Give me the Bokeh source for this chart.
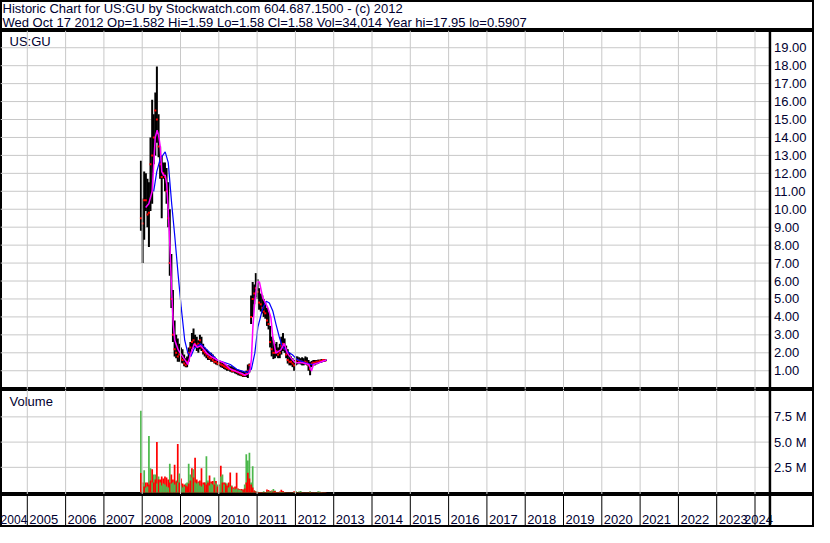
import numpy as np
import pandas as pd
from bokeh.plotting import figure
from bokeh.layouts import column
from bokeh.models import ColumnDataSource, Span
from bokeh.core.properties import value
from bokeh.embed import file_html
from bokeh.resources import INLINE

# ---------------- data ----------------
title_line1 = "Historic Chart for US:GU by Stockwatch.com 604.687.1500 - (c) 2012"
title_line2 = "Wed Oct 17 2012  Op=1.582  Hi=1.59  Lo=1.58  Cl=1.58  Vol=34,014  Year hi=17.95  lo=0.5907"
symbol_label = "US:GU"
volume_label = "Volume"

bar_dates = [
    "2007-12-20",
    "2008-01-05", "2008-01-20", "2008-02-05", "2008-02-20", "2008-03-05", "2008-03-20",
    "2008-04-05", "2008-04-20", "2008-05-05", "2008-05-20", "2008-06-05", "2008-06-20",
    "2008-07-05", "2008-07-20", "2008-08-05", "2008-08-20", "2008-09-05", "2008-09-20",
    "2008-10-05", "2008-10-20", "2008-11-05", "2008-11-20", "2008-12-05", "2008-12-20",
    "2009-01-05", "2009-01-20", "2009-02-05", "2009-02-20", "2009-03-05", "2009-03-20",
    "2009-04-05", "2009-04-20", "2009-05-05", "2009-05-20", "2009-06-05", "2009-06-20",
    "2009-07-05", "2009-07-20", "2009-08-05", "2009-08-20", "2009-09-05", "2009-09-20",
    "2009-10-05", "2009-10-20", "2009-11-05", "2009-11-20", "2009-12-05", "2009-12-20",
    "2010-01-05", "2010-01-20", "2010-02-05", "2010-02-20", "2010-03-05", "2010-03-20",
    "2010-04-05", "2010-04-20", "2010-05-05", "2010-05-20", "2010-06-05", "2010-06-20",
    "2010-07-05", "2010-07-20", "2010-08-05", "2010-08-20", "2010-09-05", "2010-09-20",
    "2010-10-05", "2010-10-20", "2010-11-05", "2010-11-20", "2010-12-05", "2010-12-20",
    "2011-01-05", "2011-01-20", "2011-02-05", "2011-02-20", "2011-03-05", "2011-03-20",
    "2011-04-05", "2011-04-20", "2011-05-05", "2011-05-20", "2011-06-05", "2011-06-20",
    "2011-07-05", "2011-07-20", "2011-08-05", "2011-08-20", "2011-09-05", "2011-09-20",
    "2011-10-05", "2011-10-20", "2011-11-05", "2011-11-20", "2011-12-05", "2011-12-20",
    "2012-01-05", "2012-01-20", "2012-02-05", "2012-02-20", "2012-03-05", "2012-03-20",
    "2012-04-05", "2012-04-20", "2012-05-05", "2012-05-20", "2012-06-05", "2012-06-20",
    "2012-07-05", "2012-07-20", "2012-08-05", "2012-08-20", "2012-09-05", "2012-09-20",
    "2012-10-05", "2012-10-17",
]

bar_hi = [
    12.7, 10.6, 12.1, 12.0, 11.7, 11.5, 14.0, 16.1, 15.3, 16.5, 17.95, 15.3, 13.5,
    13.0, 12.6, 12.6, 12.3, 11.5, 10.0, 7.5, 5.5, 3.8, 3.0, 2.8, 2.5,
    2.3, 2.2, 1.9, 1.7, 1.8, 2.3, 2.6, 3.1, 3.35, 3.0, 2.9, 2.7,
    3.0, 2.9, 2.5, 2.3, 2.2, 2.1, 2.0, 2.0, 1.9, 1.8, 1.7, 1.6,
    1.55, 1.5, 1.45, 1.4, 1.35, 1.3, 1.3, 1.25, 1.25, 1.2, 1.15, 1.1,
    1.05, 1.0, 1.0, 0.95, 0.95, 1.0, 1.35, 1.4, 5.2, 5.95, 5.8, 6.44,
    6.1, 5.6, 5.3, 5.2, 5.0, 4.8, 4.5, 4.3, 3.5, 2.9, 2.7, 2.5,
    2.6, 2.3, 2.5, 2.9, 3.1, 2.8, 2.4, 2.2, 2.0, 1.8, 1.7, 1.6,
    1.8, 1.8, 1.75, 1.7, 1.75, 1.7, 1.8, 1.75, 1.6, 1.5, 1.55, 1.6,
    1.6, 1.6, 1.62, 1.62, 1.65, 1.65, 1.65, 1.59,
]
bar_lo = [
    8.8, 7.0, 8.3, 9.9, 9.0, 7.9, 9.9, 10.3, 12.5, 13.0, 13.7, 12.9, 11.7,
    9.5, 11.7, 11.0, 10.3, 9.0, 6.3, 4.5, 2.6, 1.8, 1.7, 1.5, 1.5,
    1.45, 1.4, 1.25, 1.2, 1.2, 1.5, 1.9, 2.2, 2.3, 2.3, 2.1, 2.0,
    2.2, 2.1, 1.9, 1.8, 1.7, 1.6, 1.6, 1.5, 1.5, 1.4, 1.35, 1.3,
    1.25, 1.2, 1.15, 1.1, 1.05, 1.0, 1.0, 0.95, 0.9, 0.9, 0.85, 0.8,
    0.75, 0.72, 0.7, 0.65, 0.65, 0.65, 0.59, 0.9, 3.6, 4.0, 4.7, 5.1,
    5.0, 4.4, 4.3, 4.2, 4.0, 3.9, 3.5, 3.3, 2.3, 1.8, 1.65, 1.7,
    1.8, 1.7, 1.7, 1.9, 2.1, 2.0, 1.7, 1.4, 1.3, 1.3, 1.2, 1.0,
    1.3, 1.35, 1.4, 1.35, 1.3, 1.3, 1.35, 1.3, 1.0, 0.75, 1.2, 1.3,
    1.3, 1.35, 1.4, 1.45, 1.45, 1.5, 1.5, 1.58,
]
bar_close = [
    9.5, 9.2, 10.5, 10.5, 9.7, 9.8, 12.5, 13.0, 14.0, 15.5, 15.0, 13.5, 12.5,
    11.8, 12.0, 11.8, 11.0, 9.5, 7.0, 5.0, 3.0, 2.2, 2.0, 1.8, 1.9,
    1.7, 1.6, 1.4, 1.3, 1.5, 2.0, 2.3, 2.6, 2.7, 2.5, 2.4, 2.5,
    2.7, 2.3, 2.1, 2.0, 1.9, 1.8, 1.7, 1.7, 1.6, 1.5, 1.5, 1.4,
    1.4, 1.35, 1.3, 1.25, 1.2, 1.15, 1.1, 1.1, 1.0, 1.0, 1.0, 0.95,
    0.9, 0.85, 0.8, 0.75, 0.75, 0.85, 1.0, 1.3, 4.0, 5.0, 5.3, 5.6,
    5.4, 4.8, 4.7, 4.5, 4.3, 4.2, 3.8, 3.6, 2.6, 2.2, 2.0, 2.0,
    2.1, 1.9, 2.0, 2.4, 2.5, 2.2, 1.9, 1.6, 1.5, 1.5, 1.4, 1.3,
    1.5, 1.6, 1.55, 1.5, 1.5, 1.45, 1.5, 1.45, 1.3, 1.1, 1.4, 1.45,
    1.45, 1.5, 1.5, 1.55, 1.55, 1.6, 1.58, 1.58,
]

vol_up = [  # millions, up-day volume
    8.1, 0.9, 2.2, 0.5, 0.6, 5.6, 2.4, 1.0, 1.8, 1.8, 0.9, 1.6, 1.0,
    0.7, 0.9, 0.8, 0.6, 0.5, 2.85, 0.9, 1.0, 0.8, 1.2, 1.0, 1.9,
    0.7, 0.5, 0.6, 0.9, 1.0, 2.85, 1.8, 1.5, 2.3, 1.0, 0.9, 1.0,
    0.7, 0.6, 0.8, 1.0, 3.6, 1.2, 0.7, 0.9, 0.8, 1.5, 0.9, 0.8,
    0.7, 1.6, 1.8, 0.8, 1.0, 0.9, 0.5, 0.6, 0.7, 0.4, 0.3, 0.4,
    0.3, 0.3, 0.2, 0.3, 0.8, 3.8, 3.17, 3.94, 1.0, 2.6, 0.2, 0.15,
    0.1, 0.05, 0.05, 0.05, 0.12, 0.05, 0.08, 0.1, 0.1, 0.15, 0.35, 0.2,
    0.05, 0.05, 0.05, 0.05, 0.05, 0.03, 0.03, 0.03, 0.03, 0.03, 0.03, 0.05,
    0.15, 0.03, 0.1, 0.15, 0.03, 0.03, 0.03, 0.03, 0.03, 0.12, 0.03, 0.03,
    0.03, 0.03, 0.12, 0.1, 0.03, 0.03, 0.03, 0.02,
]
vol_down = [  # millions, down-day volume
    1.95, 1.0, 0.6, 1.0, 1.0, 0.8, 1.2, 2.3, 1.0, 1.3, 5.0, 1.3, 1.3,
    1.6, 1.4, 1.6, 1.5, 1.3, 1.0, 1.8, 1.3, 2.75, 1.1, 4.8, 1.0,
    1.4, 0.9, 0.8, 0.7, 0.6, 0.9, 1.2, 2.4, 1.5, 3.45, 1.3, 1.1,
    1.2, 2.4, 1.0, 1.0, 0.8, 1.0, 1.7, 1.1, 1.15, 0.8, 1.15, 0.6,
    0.8, 2.65, 1.0, 1.0, 0.9, 0.7, 1.0, 2.0, 0.6, 0.5, 0.6, 1.96,
    0.4, 0.35, 0.35, 0.3, 0.4, 1.0, 1.96, 1.4, 0.8, 0.5, 0.2, 0.1,
    0.05, 0.05, 0.05, 0.03, 0.03, 0.05, 0.3, 0.25, 0.15, 0.2, 0.1, 0.15,
    0.05, 0.05, 0.1, 0.28, 0.15, 0.05, 0.03, 0.03, 0.03, 0.03, 0.03, 0.12,
    0.05, 0.03, 0.03, 0.03, 0.03, 0.03, 0.03, 0.03, 0.03, 0.05, 0.03, 0.03,
    0.03, 0.03, 0.03, 0.03, 0.05, 0.03, 0.03, 0.034,
]

# short moving average (magenta), time in decimal years
ma_short_t = [
    2008.09, 2008.17, 2008.26, 2008.30, 2008.34, 2008.39, 2008.43, 2008.47, 2008.51,
    2008.56, 2008.60, 2008.64, 2008.68, 2008.72, 2008.77, 2008.81, 2008.85, 2008.94,
    2009.02, 2009.11, 2009.19, 2009.27, 2009.36, 2009.44, 2009.53, 2009.62, 2009.70,
    2009.79, 2009.96, 2010.13, 2010.30, 2010.47, 2010.60, 2010.68, 2010.78, 2010.81,
    2010.85, 2010.89, 2010.94, 2011.00, 2011.06, 2011.15, 2011.28, 2011.36, 2011.41,
    2011.49, 2011.62, 2011.71, 2011.79, 2011.92, 2012.00, 2012.18, 2012.35, 2012.42,
    2012.47, 2012.60, 2012.80,
]
ma_short_v = [
    10.1, 10.3, 11.0, 12.5, 14.0, 14.4, 14.1, 13.5, 12.1,
    11.9, 11.9, 11.4, 9.9, 8.1, 5.4, 3.6, 2.7, 2.16,
    1.9, 1.62, 1.35, 1.98, 2.5, 2.3, 2.4, 2.16, 1.95,
    1.8, 1.6, 1.44, 1.1, 0.95, 0.85, 0.75, 0.85, 0.99,
    1.62, 3.43, 4.87, 5.95, 5.95, 5.05, 4.51, 3.97, 2.88,
    1.98, 2.16, 2.52, 1.98, 1.62, 1.44, 1.44, 1.35, 0.99,
    1.35, 1.44, 1.6,
]
# long moving average (blue)
ma_long_t = [
    2008.30, 2008.38, 2008.47, 2008.60, 2008.68, 2008.77, 2008.85, 2008.94, 2009.02,
    2009.11, 2009.19, 2009.27, 2009.36, 2009.53, 2009.70, 2009.96, 2010.30, 2010.47,
    2010.72, 2010.85, 2010.94, 2011.02, 2011.15, 2011.24, 2011.32, 2011.41, 2011.49,
    2011.58, 2011.66, 2011.79, 2011.92, 2012.05, 2012.26, 2012.43, 2012.60, 2012.82,
]
ma_long_v = [
    11.0, 12.1, 12.8, 13.2, 12.6, 10.3, 8.5, 6.3, 4.5,
    2.7, 2.0, 1.8, 2.25, 2.5, 2.15, 1.6, 1.35, 1.08,
    0.9, 1.08, 1.98, 3.43, 4.51, 4.87, 4.78, 4.33, 3.61,
    2.88, 2.34, 2.07, 1.89, 1.62, 1.44, 1.35, 1.44, 1.6,
]

price_ticks = [1, 2, 3, 4, 5, 6, 7, 8, 9, 10, 11, 12, 13, 14, 15, 16, 17, 18, 19]
vol_ticks = [2.5, 5.0, 7.5]
vol_tick_labels = ["2.5 M", "5.0 M", "7.5 M"]
years = [2004, 2005, 2006, 2007, 2008, 2009, 2010, 2011, 2012, 2013, 2014,
         2015, 2016, 2017, 2018, 2019, 2020, 2021, 2022, 2023, 2024]

# ---------------- layout / style ----------------
W = 814
H_HEAD, H_PRICE, H_VOL, H_STRIP = 30, 359, 105, 33
X0 = 2004.30
PX_PER_YEAR = 38.3
X1 = X0 + W / PX_PER_YEAR
AXIS_X = 2024.39
P_RANGE = (-0.045, 19.96)
V_RANGE = (-0.19, 10.21)

FONT = "Liberation Sans"
FS = "13px"
TXT = "#000030"
GRID = "#C8C8C8"
UP = "#4CB84C"
DOWN = "#FF0000"


def to_year(dates):
    d = pd.to_datetime(pd.Series(dates))
    return (d.dt.year + (d.dt.dayofyear - 1) / 365.25).to_numpy()


def make_fig(h, yr):
    p = figure(width=W, height=h, x_range=(X0, X1), y_range=yr,
               output_backend="svg", toolbar_location=None, min_border=0,
               x_axis_type=None, y_axis_type=None)
    p.outline_line_color = "black"
    p.outline_line_width = 3
    p.background_fill_color = "white"
    p.border_fill_color = "white"
    return p


def text_kw(**kw):
    base = dict(text_font=value(FONT), text_font_size=FS, text_color=TXT,
                text_baseline="middle")
    base.update(kw)
    return base


t = to_year(bar_dates)
grid_years = [y for y in years if X0 < y < AXIS_X]

# ---------------- header ----------------
ph = make_fig(H_HEAD, (H_HEAD, 0))
ph.text(x=[X0, X0], y=[8.0, 22.4], text=[title_line1, title_line2], x_offset=2,
        **text_kw(text_align="left"))

# ---------------- price panel ----------------
pp = make_fig(H_PRICE, P_RANGE)
for gy in grid_years:
    pp.add_layout(Span(location=gy, dimension="height", line_color=GRID, line_width=1))
pp.segment(x0=X0, x1=AXIS_X, y0=price_ticks, y1=price_ticks, line_color=GRID, line_width=1)
pp.add_layout(Span(location=AXIS_X, dimension="height", line_color="black", line_width=2.5))
pp.text(x=AXIS_X, y=price_ticks, text=[f"{v:.2f}" for v in price_ticks], x_offset=4,
        **text_kw(text_align="left"))
pp.segment(x0=t, x1=t, y0=bar_lo, y1=bar_hi, line_color="black", line_width=2)
pp.rect(x=t, y=bar_close, width=2, height=2, width_units="screen", height_units="screen",
        fill_color="#FF0000", line_color=None)
pp.line(ma_long_t, ma_long_v, line_color="#0000FF", line_width=1.2)
pp.line(ma_short_t, ma_short_v, line_color="#FF00FF", line_width=1.5)
pp.text(x=[X0], y=[P_RANGE[1]], text=[symbol_label], x_offset=9, y_offset=11,
        **text_kw(text_align="left"))

# ---------------- volume panel ----------------
pv = make_fig(H_VOL, V_RANGE)
for gy in grid_years:
    pv.add_layout(Span(location=gy, dimension="height", line_color=GRID, line_width=1))
pv.segment(x0=X0, x1=AXIS_X, y0=vol_ticks, y1=vol_ticks, line_color=GRID, line_width=1)
pv.add_layout(Span(location=AXIS_X, dimension="height", line_color="black", line_width=2.5))
pv.text(x=AXIS_X, y=vol_ticks, text=vol_tick_labels, x_offset=4,
        **text_kw(text_align="left"))
n = len(t)
vx = np.concatenate([t, t])
vv = np.concatenate([np.array(vol_up), np.array(vol_down)])
vc = np.array([UP] * n + [DOWN] * n)
order = np.argsort(-vv, kind="stable")
vsrc = ColumnDataSource(dict(x=vx[order], top=vv[order], color=vc[order]))
pv.vbar(x="x", top="top", bottom=0, width=0.045, fill_color="color", line_color=None, source=vsrc)
pv.text(x=[X0], y=[V_RANGE[1]], text=[volume_label], x_offset=9, y_offset=12,
        **text_kw(text_align="left"))

# ---------------- year strip ----------------
ps = make_fig(H_STRIP, (H_STRIP, 0))
ps.segment(x0=grid_years, x1=grid_years, y0=0, y1=H_STRIP, line_color="black", line_width=1)
ps.add_layout(Span(location=AXIS_X, dimension="height", line_color="black", line_width=2.5))
first, mid, last = years[0], years[1:-1], years[-1]
LAB_Y = 24.5
ps.text(x=mid, y=LAB_Y, text=[str(y) for y in mid], x_offset=2,
        **text_kw(text_align="left"))
# first label squeezed into the partial year left of the first grid line
ps.text(x=[first + 1], y=LAB_Y, text=[str(first)], x_offset=0,
        **text_kw(text_align="right", text_font_size="12px"))
ps.text(x=[AXIS_X], y=LAB_Y, text=[str(last)], x_offset=3,
        **text_kw(text_align="right"))

layout = column(ph, pp, pv, ps)
open("out.html", "w").write(file_html(layout, INLINE, title="Historic Chart for US:GU"))
